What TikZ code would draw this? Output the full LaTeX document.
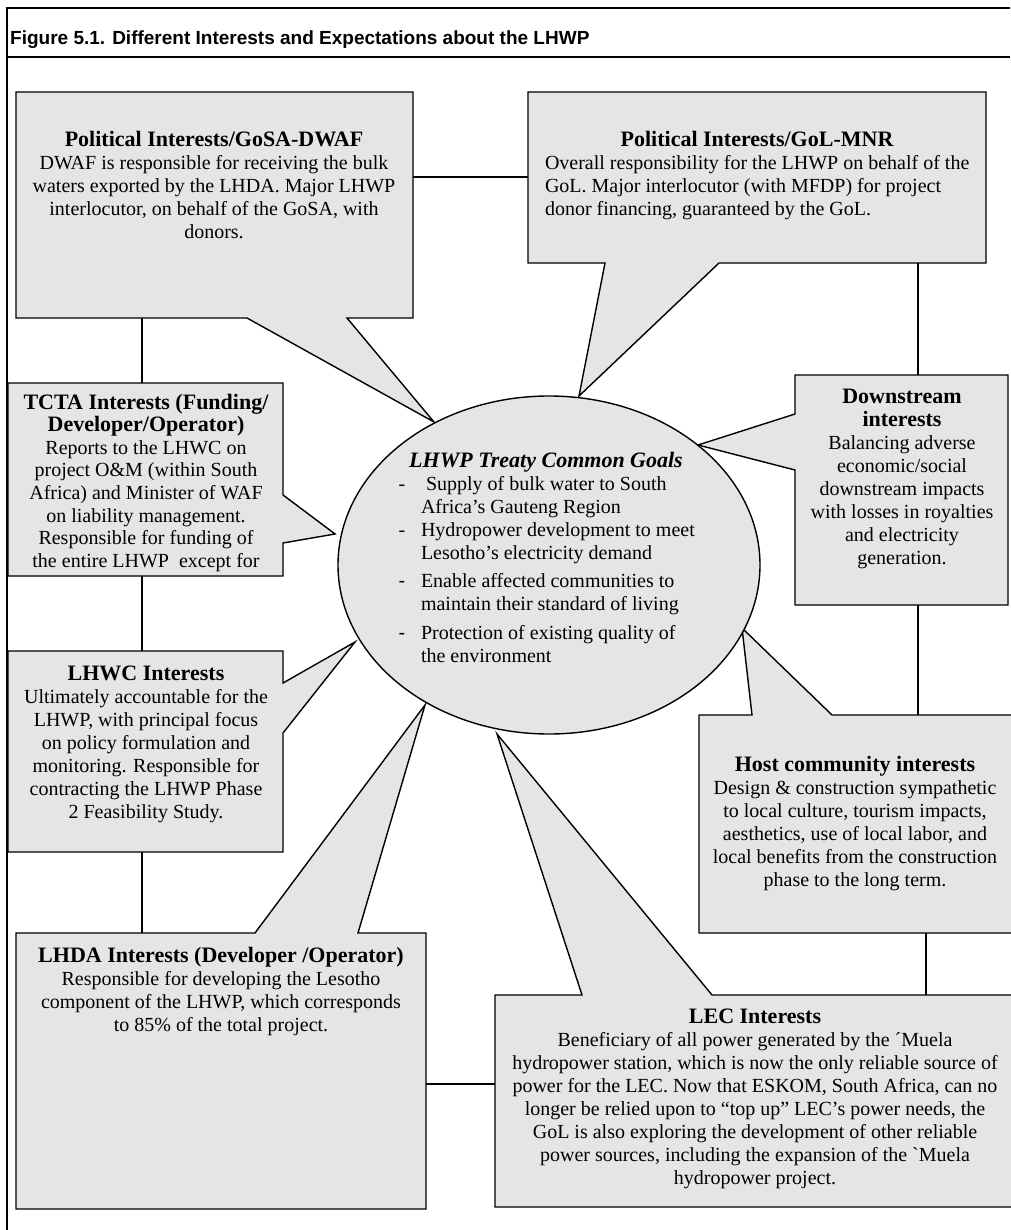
\documentclass[tikz,border=0pt]{standalone}
\usepackage{fontspec}
\setmainfont{Liberation Serif}
\newfontfamily\bodyfont{Liberation Serif}
\newfontfamily\titlesans{Liberation Sans}
\usetikzlibrary{shapes.geometric}
\definecolor{boxgray}{RGB}{229,229,229}
\newcommand{\titlefs}{\fontsize{22}{23}\selectfont\bfseries}
\newcommand{\fstrut}{\rule{0pt}{16pt}}
\begin{document}
\begin{tikzpicture}[x=1pt,y=-1pt,
  frameline/.style={line width=1.2pt},
  conn/.style={draw=black,line width=1.4pt},
  callout/.style={draw=black,fill=boxgray,line width=1.4pt,line join=miter},
  boxbody/.style={rectangle,draw=none,inner sep=0pt,outer sep=0pt},
  txt/.style={inner sep=0pt,outer sep=0pt,align=center,font=\bodyfont\fontsize{20}{23}\selectfont},
  txtl/.style={inner sep=0pt,outer sep=0pt,align=left,font=\bodyfont\fontsize{20}{23}\selectfont}]
\fill[white] (0,0) rectangle (1010,1230);
\useasboundingbox (0,0) rectangle (1010,1230);

% frame
\coordinate (fTR) at (1010,8);
\coordinate (fTL) at (7,8);
\coordinate (fBL) at (7,1230);
\coordinate (sL) at (7,57);
\coordinate (sR) at (1010,57);
\draw[frameline] (fTR) -- (fTL) -- (fBL);
\draw[frameline] (sL) -- (sR);
\node[anchor=base west,inner sep=0pt] (title) at (10,45)
  {\titlesans\bfseries\fontsize{19}{22}\selectfont Figure 5.1. Different Interests and Expectations about the LHWP};

% box bodies
\node[boxbody,minimum width=397pt,minimum height=226pt] (gosa) at (214.5,205) {};
\node[boxbody,minimum width=458pt,minimum height=171pt] (gol) at (757,177.5) {};
\node[boxbody,minimum width=213pt,minimum height=230pt] (down) at (901.5,490) {};
\node[boxbody,minimum width=317pt,minimum height=218pt] (host) at (857.5,824) {};
\node[boxbody,minimum width=275pt,minimum height=193pt] (tcta) at (145.5,479.5) {};
\node[boxbody,minimum width=275pt,minimum height=201pt] (lhwc) at (145.5,751.5) {};
\node[boxbody,minimum width=410pt,minimum height=276pt] (lhda) at (221,1071) {};
\node[boxbody,minimum width=521pt,minimum height=212pt] (lec) at (755.5,1101) {};

% tail tips
\coordinate (tgosa) at (434,422);
\coordinate (tgol) at (579,396);
\coordinate (tdown) at (698,445);
\coordinate (thost) at (742,628);
\coordinate (ttcta) at (335,534);
\coordinate (tlhwc) at (355,642);
\coordinate (tlhda) at (425,705);
\coordinate (tlec) at (497,734);

% connectors
\path ([yshift=28pt]gosa.east) coordinate (c1);
\draw[conn] (c1) -- (c1 -| gol.west);
\path ([xshift=161pt]gol.south) coordinate (c2);
\draw[conn] (c2) -- (c2 |- down.north);
\path ([xshift=16.5pt]down.south) coordinate (c3);
\draw[conn] (c3) -- (c3 |- host.north);
\path ([xshift=68.5pt]host.south) coordinate (c4);
\draw[conn] (c4) -- (c4 |- lec.north);
\path ([yshift=-13pt]lhda.east) coordinate (c5);
\draw[conn] (c5) -- (c5 -| lec.west);
\path ([xshift=-72.5pt]gosa.south) coordinate (c6);
\draw[conn] (c6) -- (c6 |- tcta.north);
\path ([xshift=-3.5pt]tcta.south) coordinate (c7);
\draw[conn] (c7) -- (c7 |- lhwc.north);
\path ([xshift=-3.5pt]lhwc.south) coordinate (c8);
\draw[conn] (c8) -- (c8 |- lhda.north);

% callouts
\draw[callout] (gosa.north west) -- (gosa.north east) -- (gosa.south east) -- (347,318) -- (tgosa) -- (247,318) -- (gosa.south west) -- cycle;
\draw[callout] (gol.north west) -- (gol.north east) -- (gol.south east) -- (719,263) -- (tgol) -- (605,263) -- (gol.south west) -- cycle;
\draw[callout] (down.north west) -- (down.north east) -- (down.south east) -- (down.south west) -- (795,470) -- (tdown) -- (795,414) -- cycle;
\draw[callout] (host.north west) -- (752,715) -- (thost) -- (832,715) -- (host.north east) -- (host.south east) -- (host.south west) -- cycle;
\draw[callout] (tcta.north west) -- (tcta.north east) -- (283,495) -- (ttcta) -- (283,543) -- (tcta.south east) -- (tcta.south west) -- cycle;
\draw[callout] (lhwc.north west) -- (lhwc.north east) -- (283,683) -- (tlhwc) -- (283,733) -- (lhwc.south east) -- (lhwc.south west) -- cycle;
\draw[callout] (lhda.north west) -- (255,933) -- (tlhda) -- (358,933) -- (lhda.north east) -- (lhda.south east) -- (lhda.south west) -- cycle;
\draw[callout] (lec.north west) -- (582,995) -- (tlec) -- (712,995) -- (lec.north east) -- (lec.south east) -- (lec.south west) -- cycle;

% central ellipse
\node[ellipse,draw=black,fill=boxgray,line width=1.4pt,minimum width=422pt,minimum height=338pt,inner sep=0pt] (goal) at (549,565) {};

% texts
\node[txt,anchor=north] (gosat) at (214,131) {\fstrut{\titlefs Political Interests/GoSA-DWAF}\\DWAF is responsible for receiving the bulk\\waters exported by the LHDA. Major LHWP\\interlocutor, on behalf of the GoSA, with\\donors.};
\node[txt,anchor=base] (golt) at (757,147) {\titlefs Political Interests/GoL-MNR};
\node[txtl,anchor=north west] (golb) at (545,154) {\fstrut Overall responsibility for the LHWP on behalf of the\\GoL. Major interlocutor (with MFDP) for project\\donor financing, guaranteed by the GoL.};
\node[txt,anchor=north,font=\bodyfont\fontsize{20}{22.6}\selectfont] (tctat) at (146,393) {\fstrut{\bfseries\fontsize{22}{22.6}\selectfont TCTA Interests (Funding/}\\{\bfseries\fontsize{22}{22.6}\selectfont Developer/Operator)}\\Reports to the LHWC on\\project O\&M (within South\\Africa) and Minister of WAF\\on liability management.\\Responsible for funding of\\the entire LHWP\ \ except for};
\node[txt,anchor=north] (lhwct) at (146,664) {\fstrut{\titlefs LHWC Interests}\\Ultimately accountable for the\\LHWP, with principal focus\\on policy formulation and\\monitoring. Responsible for\\contracting the LHWP Phase\\2 Feasibility Study.};
\node[txt,anchor=north] (lhdat) at (221,946) {\fstrut{\titlefs LHDA Interests (Developer /Operator)}\\Responsible for developing the Lesotho\\component of the LHWP, which corresponds\\to 85\% of the total project.};
\node[txt,anchor=north] (downt) at (902,387) {\fstrut{\titlefs Downstream}\\{\titlefs interests}\\Balancing adverse\\economic/social\\downstream impacts\\with losses in royalties\\and electricity\\generation.};
\node[txt,anchor=north] (hostt) at (855,755) {\fstrut{\titlefs Host community interests}\\Design \& construction sympathetic\\to local culture, tourism impacts,\\aesthetics, use of local labor, and\\local benefits from the construction\\phase to the long term.};
\node[txt,anchor=north] (lect) at (755,1007) {\fstrut{\titlefs LEC Interests}\\Beneficiary of all power generated by the ´Muela\\hydropower station, which is now the only reliable source of\\power for the LEC. Now that ESKOM, South Africa, can no\\longer be relied upon to “top up” LEC’s power needs, the\\GoL is also exploring the development of other reliable\\power sources, including the expansion of the `Muela\\hydropower project.};

% ellipse text
\node[txt,anchor=base] (goalt) at (546,467) {\bfseries\itshape\fontsize{22}{23}\selectfont LHWP Treaty Common Goals};
\node[txtl,anchor=north west] (goalb) at (421,474) {\fstrut\hspace{5pt}Supply of bulk water to South\\Africa’s Gauteng Region\\Hydropower development to meet\\Lesotho’s electricity demand\\[5pt]Enable affected communities to\\maintain their standard of living\\[6pt]Protection of existing quality of\\the environment};
\node[txt,anchor=base] (d1) at (402,490) {-};
\node[txt,anchor=base] (d2) at (402,536) {-};
\node[txt,anchor=base] (d3) at (402,587) {\titlesans -};
\node[txt,anchor=base] (d4) at (402,639) {\titlesans -};
\end{tikzpicture}
\end{document}
